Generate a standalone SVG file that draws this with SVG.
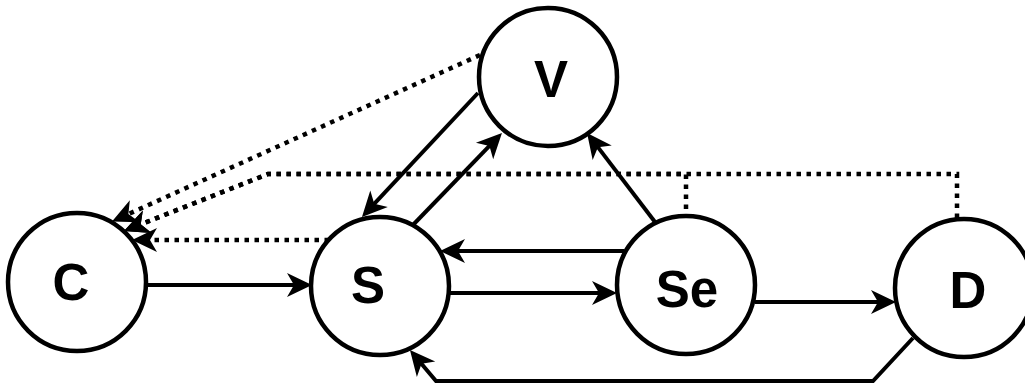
<svg xmlns="http://www.w3.org/2000/svg" width="1025" height="385" viewBox="0 0 1025 385">
  <style>
    .node { fill: #ffffff; stroke: #000000; stroke-width: 4.5; }
    .label { font-family: "Liberation Sans", Arial, sans-serif; font-size: 51px; font-weight: bold; fill: #000000; text-anchor: middle; }
    .edge { fill: none; stroke: #000000; stroke-width: 4; }
    .dot { stroke-width: 4.5; stroke-dasharray: 4.5 5.5; }
  </style>
  <defs>
    <marker id="arrow" markerUnits="userSpaceOnUse" markerWidth="30" markerHeight="30" refX="-10" refY="0" orient="auto" overflow="visible">
      <path d="M0,0 L-25,-12 L-18,0 L-25,12 Z" fill="#000000" stroke="none"/>
    </marker>
  </defs>
  <g id="connectors">
    <path class="edge" d="M147,285 L302,285" marker-end="url(#arrow)"/>
    <path class="edge" d="M448,293 L607,293" marker-end="url(#arrow)"/>
    <path class="edge" d="M624,251 L450,251" marker-end="url(#arrow)"/>
    <path class="edge" d="M755,302 L886,302" marker-end="url(#arrow)"/>
    <path class="edge" d="M478,93 L368.8,209.7" marker-end="url(#arrow)"/>
    <path class="edge" d="M410,228 L495,140.2" marker-end="url(#arrow)"/>
    <path class="edge" d="M655,222 L593.1,140.9" marker-end="url(#arrow)"/>
    <path class="edge" d="M913,338 L873,381 L436,381 L416.4,357.7" marker-end="url(#arrow)"/>
    <path class="edge dot" d="M480,55 L121.1,217.4" marker-end="url(#arrow)"/>
    <path class="edge dot" d="M686,216 L686,174 L268,174 L133.3,227.3" stroke-dashoffset="3" marker-end="url(#arrow)"/>
    <path class="edge dot" d="M957,218 L957,174 L268,174 L133.3,227.3" marker-end="url(#arrow)"/>
    <path class="edge dot" d="M329,240 L142,240" marker-end="url(#arrow)"/>
  </g>
  <g id="node-C">
    <circle class="node" cx="77" cy="282" r="69"/>
    <text class="label" x="71" y="300">C</text>
  </g>
  <g id="node-S">
    <circle class="node" cx="380" cy="286" r="69"/>
    <text class="label" x="368" y="303">S</text>
  </g>
  <g id="node-Se">
    <circle class="node" cx="686" cy="285" r="69"/>
    <text class="label" x="687" y="307">Se</text>
  </g>
  <g id="node-D">
    <circle class="node" cx="964" cy="288" r="69"/>
    <text class="label" x="968" y="308">D</text>
  </g>
  <g id="node-V">
    <circle class="node" cx="548" cy="77" r="69"/>
    <text class="label" x="551" y="97">V</text>
  </g>
</svg>
